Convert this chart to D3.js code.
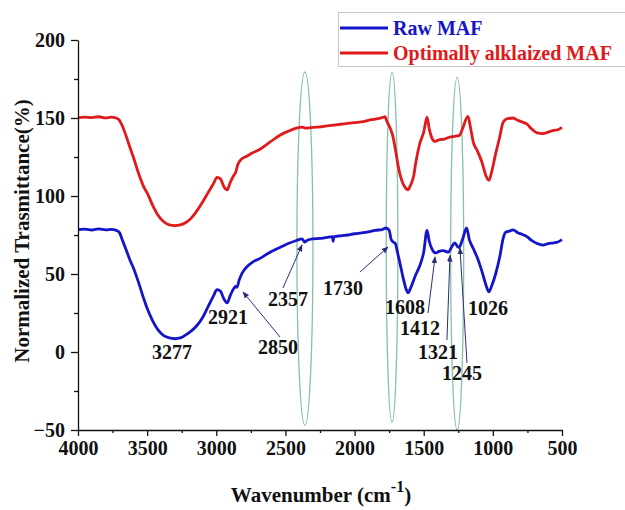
<!DOCTYPE html>
<html>
<head>
<meta charset="utf-8">
<script src="https://cdn.jsdelivr.net/npm/d3@7"></script>
<style>
  body { margin: 0; background: #fff; }
  svg { display: block; font-family: "Liberation Serif", "Times New Roman", serif; font-weight: bold; }
</style>
</head>
<body>
<svg id="chart" width="625" height="510"></svg>
<script>
// wavenumber (cm-1), transmittance (%)
const rawMAF = [
  [4000,78.5],[3950,78.8],[3900,78.2],[3850,78.9],[3800,78.3],[3760,78.6],[3720,77.8],[3700,76.5],
  [3680,72],[3650,65],[3620,58],[3600,54],[3560,44],[3520,33],[3500,28],[3460,20],[3420,14],
  [3380,10.5],[3340,9],[3300,8.5],[3260,9],[3220,11],[3180,13.5],[3140,17],[3100,22],[3060,29],
  [3020,36],[2995,40],[2970,39],[2945,34],[2921,31.5],[2900,36],[2875,40.5],[2860,42],[2850,41.5],
  [2835,46],[2810,51],[2780,54.5],[2740,57.5],[2684,60],[2620,63.5],[2540,67],[2480,69.5],
  [2420,71.5],[2380,72.5],[2360,70.5],[2345,71.5],[2300,72.5],[2250,72.8],[2200,73.5],[2160,74],
  [2155,71],[2150,73.8],[2100,74.5],[2050,75],[2000,75.8],[1950,76.3],[1900,77],[1850,78],
  [1800,78.5],[1773,79.5],[1750,78],[1735,72],[1720,70.5],[1705,69.5],[1690,64],[1672,57],
  [1650,48],[1630,41],[1613,38],[1595,41],[1560,49],[1530,55],[1500,64],[1476,78],[1460,71],
  [1440,66],[1412,63.5],[1390,64.5],[1360,65],[1321,64],[1300,67],[1275,70],[1255,67.5],[1245,67],
  [1220,72],[1190,79.5],[1170,72],[1140,66],[1115,61],[1080,52],[1050,43],[1028,38.5],[1010,42],
  [980,50],[950,61],[925,73],[910,76.5],[880,77.5],[854,78.3],[820,76.5],[790,75.5],[753,74],
  [720,71.5],[680,69.5],[637,68.5],[600,69.5],[560,70],[530,70.5],[500,72]
];
const alkMAF = [
  [4000,150.3],[3950,150.6],[3900,150.2],[3850,150.8],[3800,150.1],[3760,150.5],[3720,149.8],
  [3700,148.5],[3680,145],[3650,138],[3620,130],[3600,125],[3560,114],[3520,105],[3500,102],
  [3460,94],[3420,87.5],[3380,83.5],[3340,81.5],[3300,81],[3260,81.5],[3220,83],[3180,86],
  [3140,90.5],[3100,96],[3060,102],[3020,108],[2995,112],[2970,111],[2945,106],[2921,104],
  [2900,108.5],[2875,113],[2860,115],[2845,120],[2820,123.5],[2780,125.5],[2740,127.5],[2684,130],
  [2620,134],[2540,139],[2480,141.5],[2420,143.5],[2380,144.2],[2357,143.5],[2320,143.8],[2300,144],
  [2250,144.3],[2200,145],[2150,145.5],[2100,146],[2050,146.5],[2000,147],[1950,147.5],[1900,148.5],
  [1850,149.3],[1800,150.3],[1780,150.8],[1765,147.5],[1745,144],[1725,139],[1705,130],[1690,122],
  [1672,114],[1650,108],[1630,105],[1613,104],[1595,107],[1570,114],[1560,120],[1530,133],
  [1500,141],[1476,150.5],[1460,143],[1440,137],[1418,135],[1390,136],[1350,136.5],[1320,137.5],
  [1290,138],[1260,138.5],[1240,139],[1220,143],[1180,151],[1160,143],[1140,134],[1115,129.5],
  [1080,122],[1050,113],[1028,110],[1010,115],[980,127],[950,138],[927,147],[900,149.5],[854,150],
  [820,148.5],[790,147.5],[753,146],[720,143],[680,140.5],[637,140],[600,141],[560,142],[530,142.5],
  [500,144]
];

const xTicks = [4000, 3500, 3000, 2500, 2000, 1500, 1000, 500];
const yTicks = [-50, 0, 50, 100, 150, 200];
const legendLabels = ["Raw MAF", "Optimally alklaized MAF"];
const seriesColors = ["#1414c8", "#e01a1a"];

// peak labels: text, label position [w, v], arrow from [w, v] to [w, v] (null = no arrow)
const peakLabels = [
  ["3277", [3320, 0], null],
  ["2921", [2915, 22.4], null],
  ["2850", [2554, 3.2], [[2539, 9.6], [2807, 38.5]]],
  ["2357", [2481, 34], [[2518, 41], [2380, 68.6]]],
  ["1730", [2084, 41], [[1961, 51.3], [1758, 67.3]]],
  ["1608", [1635, 28.9], null],
  ["1412", [1527, 15.4], [[1469, 25], [1418, 61]]],
  ["1321", [1397, 0], [[1332, 7.7], [1310, 62]]],
  ["1245", [1223, -13.5], [[1187, -7], [1238, 66.7]]],
  ["1026", [1035, 28.2], null]
];

// highlight ellipses: centre wavenumber, half-width (cm-1), value range
const bandCentres = [2359, 1729, 1258];
const bandHalfWidth = [58, 42, 47];
const bandRanges = [[-47, 179.5], [-45, 179.5], [-50, 176]];

const svg = d3.select("#chart");
const x = d3.scaleLinear().domain([4000, 500]).range([78, 562]);
const y = d3.scaleLinear().domain([-50, 200]).range([430, 40]);

// ellipses
svg.append("g")
  .selectAll("ellipse")
  .data(bandCentres)
  .join("ellipse")
  .attr("cx", d => x(d))
  .attr("cy", (d, i) => (y(bandRanges[i][0]) + y(bandRanges[i][1])) / 2)
  .attr("rx", (d, i) => Math.abs(x(d + bandHalfWidth[i]) - x(d)))
  .attr("ry", (d, i) => Math.abs(y(bandRanges[i][0]) - y(bandRanges[i][1])) / 2)
  .attr("fill", "none")
  .attr("stroke", "#86c2a6")
  .attr("stroke-width", 1.3);

// spectra
const line = d3.line().x(d => x(d[0])).y(d => y(d[1])).curve(d3.curveMonotoneX);
svg.append("g")
  .selectAll("path")
  .data([rawMAF, alkMAF])
  .join("path")
  .attr("d", d => line(d.slice().reverse()))
  .attr("fill", "none")
  .attr("stroke", (d, i) => seriesColors[i])
  .attr("stroke-width", 2.8)
  .attr("stroke-linejoin", "round");

// axes
svg.append("g").attr("transform", `translate(0,${y(-50)})`)
  .call(d3.axisBottom(x).tickValues(xTicks).tickFormat(d3.format("d")).tickSize(6).tickPadding(5).tickSizeOuter(0));
svg.append("g").attr("transform", `translate(0,${y(-50)})`)
  .call(d3.axisBottom(x).tickValues(xTicks.slice(1).map(d => d + 250)).tickFormat("").tickSize(3).tickSizeOuter(0))
  .call(g => g.select(".domain").remove());
svg.append("g").attr("transform", `translate(${x(4000)},0)`)
  .call(d3.axisLeft(y).tickValues(yTicks).tickSize(7).tickPadding(6).tickSizeOuter(0));
svg.append("g").attr("transform", `translate(${x(4000)},0)`)
  .call(d3.axisLeft(y).tickValues(yTicks.slice(1).map(d => d - 25)).tickFormat("").tickSize(4).tickSizeOuter(0))
  .call(g => g.select(".domain").remove());

svg.selectAll(".tick text")
  .attr("font-family", "Liberation Serif, serif")
  .attr("font-weight", "bold")
  .attr("font-size", 20)
  .attr("fill", "#111");
svg.selectAll(".domain, .tick line").attr("stroke", "#111").attr("stroke-width", 1.3);

// axis titles
svg.append("text")
  .attr("transform", `translate(29,${(y(-50) + y(200)) / 2 -4}) rotate(-90)`)
  .attr("text-anchor", "middle")
  .attr("font-size", 21)
  .attr("fill", "#111")
  .text("Normalized Trasmittance(%)");

const xt = svg.append("text")
  .attr("x", 321)
  .attr("y", 502)
  .attr("text-anchor", "middle")
  .attr("font-size", 21)
  .attr("fill", "#111");
xt.append("tspan").text("Wavenumber (cm");
xt.append("tspan").attr("dy", -10).attr("font-size", 16).text("-1");
xt.append("tspan").attr("dy", 10).text(")");

// peak labels and arrows
const defs = svg.append("defs");
defs.append("marker")
  .attr("id", "head")
  .attr("viewBox", "0 0 10 10")
  .attr("refX", 9).attr("refY", 5)
  .attr("markerWidth", 7).attr("markerHeight", 7)
  .attr("orient", "auto")
  .append("path").attr("d", "M0,1 L10,5 L0,9 Z").attr("fill", "#2b2f7a");

const ann = svg.append("g");
ann.selectAll("line")
  .data(peakLabels.filter(d => d[2]))
  .join("line")
  .attr("x1", d => x(d[2][0][0])).attr("y1", d => y(d[2][0][1]))
  .attr("x2", d => x(d[2][1][0])).attr("y2", d => y(d[2][1][1]))
  .attr("stroke", "#2b2f7a")
  .attr("stroke-width", 1)
  .attr("marker-end", "url(#head)");
ann.selectAll("text")
  .data(peakLabels)
  .join("text")
  .attr("x", d => x(d[1][0]))
  .attr("y", d => y(d[1][1]))
  .attr("dy", "0.35em")
  .attr("text-anchor", "middle")
  .attr("font-size", 20)
  .attr("fill", "#111")
  .text(d => d[0]);

// legend
const legend = svg.append("g");
legend.append("rect")
  .attr("x", 338.5).attr("y", 12.5)
  .attr("width", 300).attr("height", 54)
  .attr("fill", "#fff")
  .attr("stroke", "#c8c8c8");
const item = legend.selectAll("g")
  .data(legendLabels)
  .join("g")
  .attr("transform", (d, i) => `translate(340,${28 + i * 25})`);
item.append("line")
  .attr("x2", 48)
  .attr("stroke", (d, i) => seriesColors[i])
  .attr("stroke-width", 3);
item.append("text")
  .attr("x", 53)
  .attr("dy", "0.35em")
  .attr("font-size", 20)
  .attr("fill", (d, i) => seriesColors[i])
  .text(d => d);
</script>
</body>
</html>
